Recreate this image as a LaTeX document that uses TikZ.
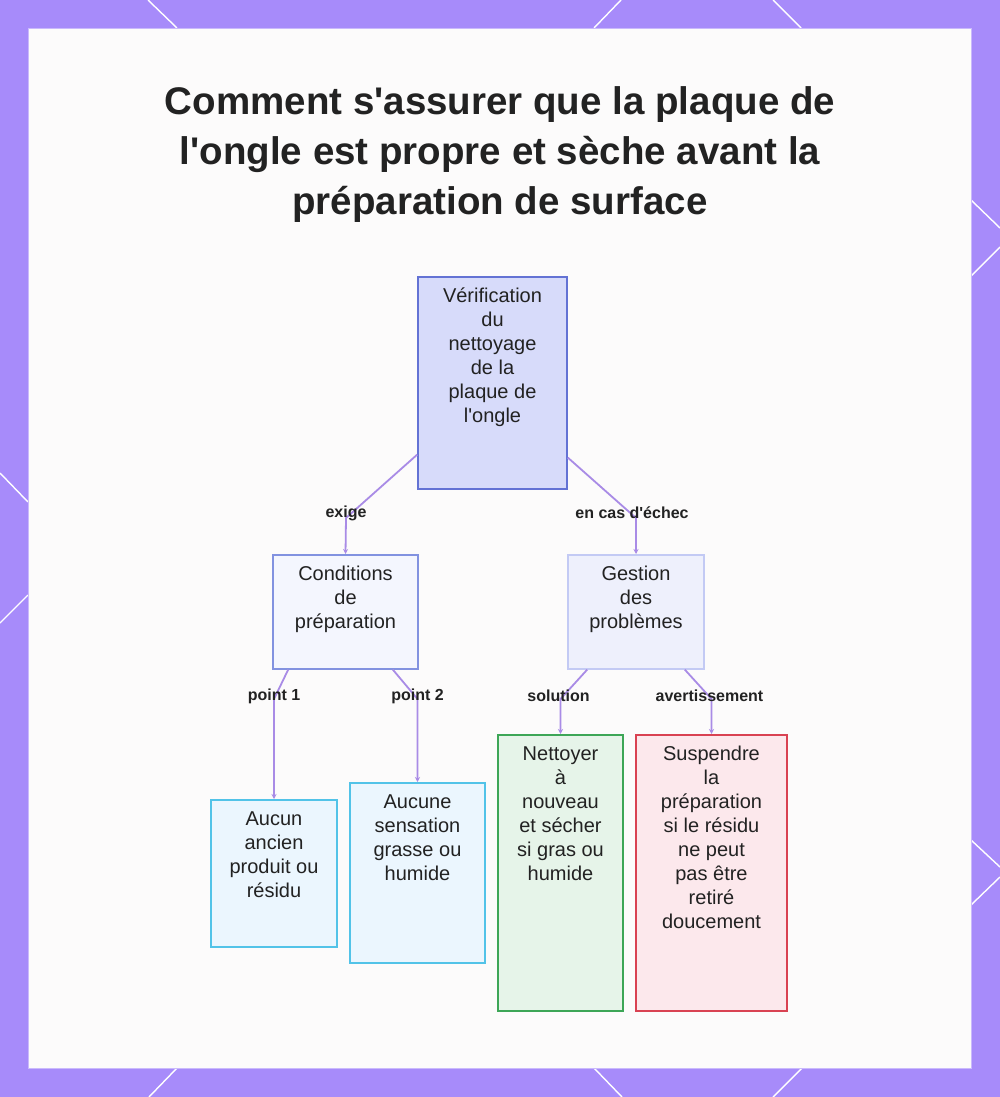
\documentclass[tikz,border=0pt]{standalone}
\usepackage{fontspec}
\setmainfont{Liberation Sans}
\usepackage{xcolor}
\usetikzlibrary{arrows.meta}
\definecolor{framecol}{HTML}{A78BFA}
\definecolor{panel}{HTML}{FCFBFB}
\definecolor{ink}{HTML}{222222}
\definecolor{linkcol}{HTML}{A98BE6}
\definecolor{rootfill}{HTML}{D7DBFA}
\definecolor{rootline}{HTML}{6372D4}
\definecolor{condfill}{HTML}{F4F6FE}
\definecolor{condline}{HTML}{8292E0}
\definecolor{gestfill}{HTML}{EEF0FC}
\definecolor{gestline}{HTML}{C3CAF4}
\definecolor{leaffill}{HTML}{EBF6FE}
\definecolor{leafline}{HTML}{52C3E8}
\definecolor{okfill}{HTML}{E6F4E9}
\definecolor{okline}{HTML}{3DA657}
\definecolor{warnfill}{HTML}{FCE8EC}
\definecolor{warnline}{HTML}{D94252}
\newcommand{\q}{\textquotesingle}
\newcommand{\boxtxt}[3]{\parbox[c][#2pt][t]{#1pt}{\centering\rule{0pt}{26pt}#3}}
\tikzset{
  stage/.style={
    draw,
    line width=1.6pt,
    inner sep=0pt,
    anchor=north,
    text=ink,
    font=\fontsize{20}{24}\selectfont},
  rootbox/.style={stage, draw=rootline, fill=rootfill},
  condbox/.style={stage, draw=condline, fill=condfill},
  gestbox/.style={stage, draw=gestline, fill=gestfill},
  leafbox/.style={stage, draw=leafline, fill=leaffill},
  okbox/.style={stage, draw=okline, fill=okfill},
  warnbox/.style={stage, draw=warnline, fill=warnfill},
  link/.style={
    draw=linkcol,
    line width=1.8pt,
    -{Stealth[length=5pt,width=5pt]}},
  lbl/.style={
    font=\fontsize{16}{18}\selectfont\bfseries,
    text=ink,
    yshift=5pt},
  cut/.style={white, line width=1.4pt}
  }
\begin{document}
\begin{tikzpicture}[x=1pt,y=-1pt]
    \useasboundingbox (0,0) rectangle (1000,1097);
    \fill[framecol] (0,0) rectangle (1000,1097);
    \draw[cut] (148,0) -- (177,28) (621,0) -- (594,28) (773,0) -- (801,28);
    \draw[cut] (149,1097) -- (177,1068) (622,1097) -- (594,1068) (773,1097) -- (802,1068);
    \draw[cut] (0,473) -- (28,502) (28,595) -- (0,623);
    \draw[cut] (971,200) -- (1000,228) (1000,247) -- (971,276);
    \draw[cut] (971,840) -- (1000,867) (1000,877) -- (971,905);
    \filldraw[fill=panel, draw=framecol!60] (28,28) rectangle (971,1068);
    \node (title) at (500,155) [align=center, text=ink,
      font=\fontsize{38.5}{50}\selectfont\bfseries]
      {Comment s\q assurer que la plaque de\\
       l\q ongle est propre et sèche avant la\\
       préparation de surface};
    \node[rootbox] (verif) at (492.5,276)
      {\boxtxt{149}{212}{Vérification\\du\\nettoyage\\de la\\plaque de\\l\q ongle}};
    \node[condbox] (cond) at (345.5,554)
      {\boxtxt{145}{114}{Conditions\\de\\préparation}};
    \node[gestbox] (gest) at (636,554)
      {\boxtxt{136}{114}{Gestion\\des\\problèmes}};
    \node[leafbox] (ancien) at (274,799)
      {\boxtxt{126}{147}{Aucun\\ancien\\produit ou\\résidu}};
    \node[leafbox] (gras) at (417.5,782)
      {\boxtxt{135}{180}{Aucune\\sensation\\grasse ou\\humide}};
    \node[okbox] (nettoyer) at (560.5,734)
      {\boxtxt{125}{276}{Nettoyer\\à\\nouveau\\et sécher\\si gras ou\\humide}};
    \node[warnbox] (suspendre) at (711.5,734)
      {\boxtxt{151}{276}{Suspendre\\la\\préparation\\si le résidu\\ne peut\\pas être\\retiré\\doucement}};
    \draw[link] ([yshift=35pt]verif.south west) -- (346,518) node[lbl]{exige} -- (cond.north);
    \draw[link] ([yshift=32pt]verif.south east) -- (636,518) node[lbl, xshift=-4pt]{en cas d\q échec} -- (gest.north);
    \draw[link] ([xshift=16pt]cond.south west) -- (274,699) node[lbl, yshift=-2pt]{point 1} -- (ancien.north);
    \draw[link] ([xshift=-26pt]cond.south east) -- (417.5,699) node[lbl, yshift=-2pt]{point 2} -- (gras.north);
    \draw[link] ([xshift=20pt]gest.south west) -- (560.5,699) node[lbl, xshift=-2pt, yshift=-2pt]{solution} -- (nettoyer.north);
    \draw[link] ([xshift=-20pt]gest.south east) -- (711.5,699) node[lbl, xshift=-2pt, yshift=-2pt]{avertissement} -- (suspendre.north);
\end{tikzpicture}
\end{document}
